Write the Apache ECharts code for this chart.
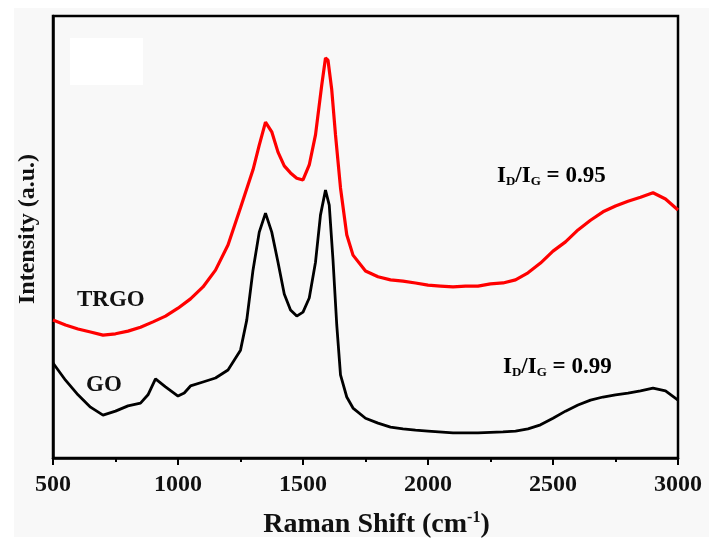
<!DOCTYPE html>
<html>
<head>
<meta charset="utf-8">
<script src="https://cdn.jsdelivr.net/npm/echarts@6/dist/echarts.min.js"></script>
<style>
  html, body { margin: 0; padding: 0; background: #fff; }
  #chart { width: 709px; height: 542px; }
</style>
</head>
<body>
<div id="chart"></div>
<script>
// Raman spectra (intensity in arbitrary units, 0-100 scale)
const trgoShift = [500, 550, 600, 650, 700, 750, 800, 850, 900, 950, 1000, 1050, 1100, 1150, 1200, 1250, 1300, 1325, 1350, 1375, 1400, 1425, 1450, 1475, 1500, 1525, 1550, 1575, 1590, 1600, 1615, 1630, 1650, 1675, 1700, 1750, 1800, 1850, 1900, 1950, 2000, 2050, 2100, 2150, 2200, 2250, 2300, 2350, 2400, 2450, 2500, 2550, 2600, 2650, 2700, 2750, 2800, 2850, 2900, 2950, 3000]
const trgoIntensity = [31.2, 30.1, 29.2, 28.5, 27.8, 28.1, 28.7, 29.6, 30.8, 32.1, 33.9, 36.0, 38.7, 42.5, 48.2, 56.6, 65.2, 70.8, 76.0, 73.8, 69.2, 66.1, 64.5, 63.3, 62.9, 66.3, 73.1, 84.4, 90.5, 90.0, 83.3, 73.1, 61.1, 50.5, 45.9, 42.3, 41.0, 40.3, 40.0, 39.6, 39.1, 38.9, 38.7, 38.9, 38.9, 39.4, 39.6, 40.3, 41.9, 44.1, 46.8, 48.9, 51.6, 53.8, 55.7, 57.0, 58.1, 59.0, 60.0, 58.6, 56.1]

const goShift = [500, 550, 600, 650, 700, 750, 800, 850, 880, 910, 950, 1000, 1025, 1050, 1100, 1150, 1200, 1250, 1275, 1300, 1325, 1350, 1375, 1400, 1425, 1450, 1475, 1500, 1525, 1550, 1570, 1590, 1605, 1620, 1635, 1650, 1675, 1700, 1750, 1800, 1850, 1900, 1950, 2000, 2100, 2200, 2300, 2350, 2400, 2450, 2500, 2550, 2600, 2650, 2700, 2750, 2800, 2850, 2900, 2950, 3000]
const goIntensity = [21.5, 17.6, 14.3, 11.5, 9.7, 10.6, 11.8, 12.4, 14.3, 17.9, 16.1, 14.0, 14.7, 16.3, 17.2, 18.1, 19.9, 24.4, 31.2, 42.5, 51.1, 55.4, 51.1, 44.3, 37.1, 33.5, 32.1, 33.0, 36.2, 44.3, 55.0, 60.6, 57.2, 44.8, 30.1, 18.8, 13.8, 11.3, 9.0, 7.9, 7.0, 6.6, 6.3, 6.1, 5.7, 5.7, 5.9, 6.1, 6.6, 7.5, 9.0, 10.6, 12.0, 13.1, 13.8, 14.3, 14.7, 15.2, 15.8, 15.2, 13.1]

const xTicks = { min: 500, max: 3000, step: 500 }

const serif = "'Liberation Serif', 'Times New Roman', serif"

const chart = echarts.init(document.getElementById('chart'))

const pairs = (xs, ys) => xs.map((x, i) => [x, ys[i]])

const ratioRich = {
  m: { fontFamily: serif, fontWeight: 'bold', fontSize: 23, color: '#111' },
  s: { fontFamily: serif, fontWeight: 'bold', fontSize: 13, color: '#111', padding: [10, 0, 0, 0] },
}

chart.setOption({
  animation: false,
  backgroundColor: 'transparent',
  grid: {
    left: 53, top: 16, right: 31, bottom: 84,
    outerBoundsMode: 'none',
    show: true, borderColor: '#000', borderWidth: 2.5,
  },
  xAxis: {
    type: 'value',
    min: xTicks.min,
    max: xTicks.max,
    interval: xTicks.step,
    name: 'Raman Shift (cm{sup|-1})',
    nameLocation: 'middle',
    nameGap: 52,
    nameTextStyle: {
      fontFamily: serif, fontWeight: 'bold', fontSize: 28, color: '#111',
      padding: [0, 0, 0, 22],
      rich: {
        sup: { fontFamily: serif, fontWeight: 'bold', fontSize: 16, color: '#111', padding: [0, 0, 14, 0] },
      },
    },
    axisLine: { show: true, lineStyle: { color: '#000', width: 2.5 } },
    axisTick: { show: true, inside: false, length: 7, lineStyle: { color: '#000', width: 2 } },
    minorTick: { show: true, splitNumber: 2, length: 4, lineStyle: { color: '#000', width: 2 } },
    splitLine: { show: false },
    axisLabel: {
      fontFamily: serif, fontWeight: 'bold', fontSize: 24, color: '#111', margin: 15,
      formatter: v => String(v),
    },
  },
  yAxis: {
    type: 'value',
    min: 0,
    max: 100,
    name: 'Intensity (a.u.)',
    nameLocation: 'middle',
    nameGap: 13,
    nameTextStyle: { fontFamily: serif, fontWeight: 'bold', fontSize: 24, color: '#111', padding: [0, 0, 0, 16] },
    axisLine: { show: true, lineStyle: { color: '#000', width: 2.5 } },
    axisTick: { show: false },
    axisLabel: { show: false },
    splitLine: { show: false },
  },
  graphic: [
    { type: 'rect', silent: true, z: -10, shape: { x: 14, y: 8, width: 695, height: 529 }, style: { fill: '#f8f8f8' } },
    { type: 'rect', silent: true, z: -9, shape: { x: 70, y: 38, width: 73, height: 47 }, style: { fill: '#ffffff' } },
    { type: 'text', left: 77, top: 289, style: { text: 'TRGO', fontFamily: serif, fontWeight: 'bold', fontSize: 23, fill: '#111' } },
    { type: 'text', left: 86, top: 374, style: { text: 'GO', fontFamily: serif, fontWeight: 'bold', fontSize: 23, fill: '#111' } },
    { type: 'text', left: 497, top: 165, style: { text: '{m|I}{s|D}{m|/I}{s|G}{m| = 0.95}', rich: ratioRich } },
    { type: 'text', left: 503, top: 356, style: { text: '{m|I}{s|D}{m|/I}{s|G}{m| = 0.99}', rich: ratioRich } },
  ],
  series: [
    {
      name: 'TRGO',
      type: 'line',
      data: pairs(trgoShift, trgoIntensity),
      showSymbol: false,
      lineStyle: { color: '#ff0000', width: 3.2 },
      z: 2,
    },
    {
      name: 'GO',
      type: 'line',
      data: pairs(goShift, goIntensity),
      showSymbol: false,
      lineStyle: { color: '#000', width: 2.8 },
      z: 3,
    },
  ],
})
</script>
</body>
</html>
